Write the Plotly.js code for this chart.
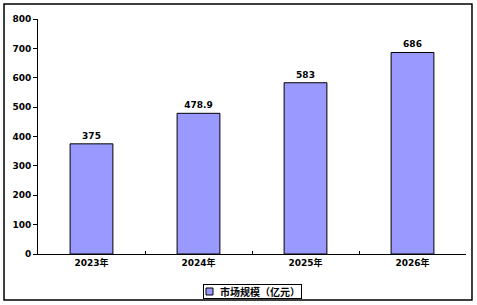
<!DOCTYPE html>
<html><head><meta charset="utf-8">
<script src="https://cdn.plot.ly/plotly-3.0.1.min.js"></script>
<style>html,body{margin:0;padding:0;background:#fff}#c{width:477px;height:305px}</style>
</head><body><div id="c"></div>
<script>
const categories = ['2023年', '2024年', '2025年', '2026年'];
const values = [375, 478.9, 583, 686];
const labels = ['375', '478.9', '583', '686'];
const seriesName = '市场规模（亿元）';

const fam = 'DejaVu Sans, Noto Sans CJK SC, sans-serif';
const barColor = '#9999FF';
const trace = {
  type: 'bar', x: categories, y: values, name: seriesName,
  text: labels, textposition: 'outside', cliponaxis: false,
  textfont: {family: fam, size: 9, color: '#000', weight: 'bold'},
  marker: {color: barColor, line: {color: '#000', width: 1}},
  showlegend: false
};
const layout = {
  width: 477, height: 305,
  margin: {l: 38, r: 11, t: 19, b: 51, autoexpand: false},
  paper_bgcolor: '#fff', plot_bgcolor: '#fff',
  font: {family: fam, size: 9, color: '#000', weight: 'bold'},
  bargap: 0.6,
  xaxis: {type: 'category', showline: true, linecolor: '#000', linewidth: 1,
    ticks: 'inside', tickson: 'boundaries', ticklen: 3, tickcolor: '#000',
    showgrid: false, zeroline: false, tickfont: {family: fam, size: 9, weight: 'bold'}},
  yaxis: {range: [0, 800], dtick: 100, showline: true, linecolor: '#000', linewidth: 1,
    ticks: 'outside', ticklen: 4, tickcolor: '#000', showgrid: false, zeroline: false,
    tickfont: {family: fam, size: 9, weight: 'bold'}},
  showlegend: false,
  annotations: [{
    xref: 'paper', yref: 'paper', x: 0.501, y: -0.1596, xanchor: 'center', yanchor: 'middle',
    text: seriesName, showarrow: false, width: 95, height: 11, align: 'right', valign: 'middle',
    bordercolor: '#000', borderwidth: 1, borderpad: 1, bgcolor: 'rgba(0,0,0,0)',
    font: {family: 'Noto Sans CJK SC, sans-serif', size: 10, weight: 'bold', color: '#000'}
  }],
  shapes: [
    {type: 'rect', xref: 'paper', yref: 'paper', x0: -0.0794, x1: 1.014, y0: -0.1957, y1: 1.0638,
      line: {color: '#000', width: 1.5}, fillcolor: 'rgba(0,0,0,0)', layer: 'below'},
    {type: 'rect', xref: 'paper', yref: 'paper', x0: 0.3925, x1: 0.4089, y0: -0.1745, y1: -0.1447,
      line: {color: '#000', width: 1}, fillcolor: barColor, layer: 'above'}
  ]
};
Plotly.newPlot('c', [trace], layout, {staticPlot: true});
</script></body></html>
